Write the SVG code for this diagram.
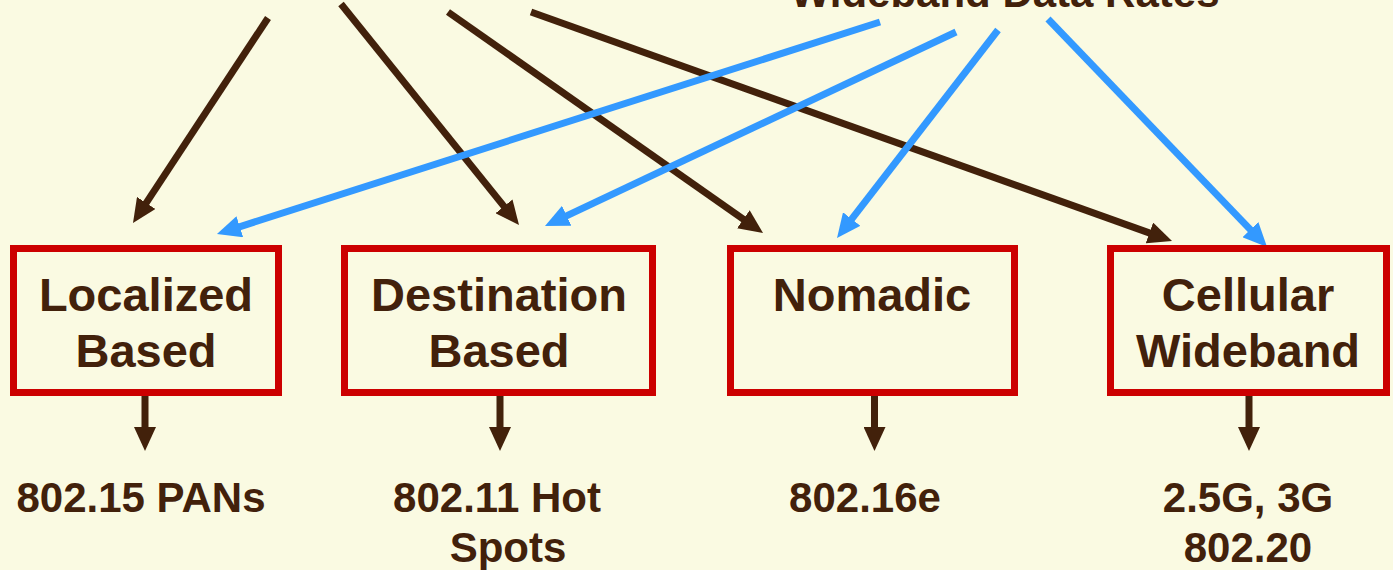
<svg xmlns="http://www.w3.org/2000/svg" width="1393" height="570" viewBox="0 0 1393 570">
  <style>
    .bg { fill: #FAFAE2; }
    .box { fill: none; stroke: #CC0000; stroke-width: 7; }
    .label { font-family: "Liberation Sans", Arial, sans-serif; font-weight: bold; fill: #42210B; text-anchor: middle; }
    .big { font-size: 47px; }
    .small { font-size: 42px; }
    .brown { stroke: #42210B; stroke-width: 7; fill: none; marker-end: url(#headBrown); }
    .blue { stroke: #3399FF; stroke-width: 7; fill: none; marker-end: url(#headBlue); }
  </style>
  <defs>
    <marker id="headBrown" viewBox="0 0 24 22" refX="2" refY="11" markerWidth="24" markerHeight="22" markerUnits="userSpaceOnUse" orient="auto">
      <path d="M0,0 L24,11 L0,22 z" fill="#42210B"/>
    </marker>
    <marker id="headBlue" viewBox="0 0 24 22" refX="2" refY="11" markerWidth="24" markerHeight="22" markerUnits="userSpaceOnUse" orient="auto">
      <path d="M0,0 L24,11 L0,22 z" fill="#3399FF"/>
    </marker>
  </defs>

  <rect class="bg" x="0" y="0" width="1393" height="570"/>

  <!-- source heading, partly above the top edge -->
  <g id="source-wideband">
    <text class="label small" x="1005" y="7">Wideband Data Rates</text>
  </g>

  <g id="connectors">
    <!-- brown arrows from the upper-left source -->
    <line class="brown" x1="268" y1="18" x2="145.1" y2="204.6"/>
    <line class="brown" x1="341" y1="4" x2="505.2" y2="207.9"/>
    <line class="brown" x1="448" y1="12" x2="745.0" y2="220.4"/>
    <line class="brown" x1="531" y1="12" x2="1151.3" y2="233.6"/>
    <!-- blue arrows from the wideband heading -->
    <line class="blue" x1="880" y1="22" x2="237.9" y2="227.3"/>
    <line class="blue" x1="956" y1="32" x2="564.9" y2="216.6"/>
    <line class="blue" x1="998" y1="30" x2="850.5" y2="220.6"/>
    <line class="blue" x1="1048" y1="19" x2="1251.8" y2="231.1"/>
    <!-- down arrows to the standards -->
    <line class="brown" x1="145" y1="396" x2="145" y2="429"/>
    <line class="brown" x1="500" y1="396" x2="500" y2="429"/>
    <line class="brown" x1="874.5" y1="396" x2="874.5" y2="429"/>
    <line class="brown" x1="1249" y1="396" x2="1249" y2="429"/>
  </g>

  <g id="localized">
    <rect class="box" x="13.5" y="248.5" width="265" height="144"/>
    <text class="label big" x="146" y="311">Localized</text>
    <text class="label big" x="146" y="367">Based</text>
  </g>
  <g id="destination">
    <rect class="box" x="344.5" y="248.5" width="308" height="144"/>
    <text class="label big" x="499" y="311">Destination</text>
    <text class="label big" x="499" y="367">Based</text>
  </g>
  <g id="nomadic">
    <rect class="box" x="730.5" y="248.5" width="284" height="144"/>
    <text class="label big" x="872" y="311">Nomadic</text>
  </g>
  <g id="cellular">
    <rect class="box" x="1110.5" y="248.5" width="276" height="144"/>
    <text class="label big" x="1248" y="311">Cellular</text>
    <text class="label big" x="1248" y="367">Wideband</text>
  </g>

  <g id="std-pans">
    <text class="label small" x="141" y="512">802.15 PANs</text>
  </g>
  <g id="std-hotspots">
    <text class="label small" x="497" y="512">802.11 Hot</text>
    <text class="label small" x="508" y="562">Spots</text>
  </g>
  <g id="std-nomadic">
    <text class="label small" x="865" y="512">802.16e</text>
  </g>
  <g id="std-cellular">
    <text class="label small" x="1248" y="512">2.5G, 3G</text>
    <text class="label small" x="1248" y="562">802.20</text>
  </g>
</svg>
